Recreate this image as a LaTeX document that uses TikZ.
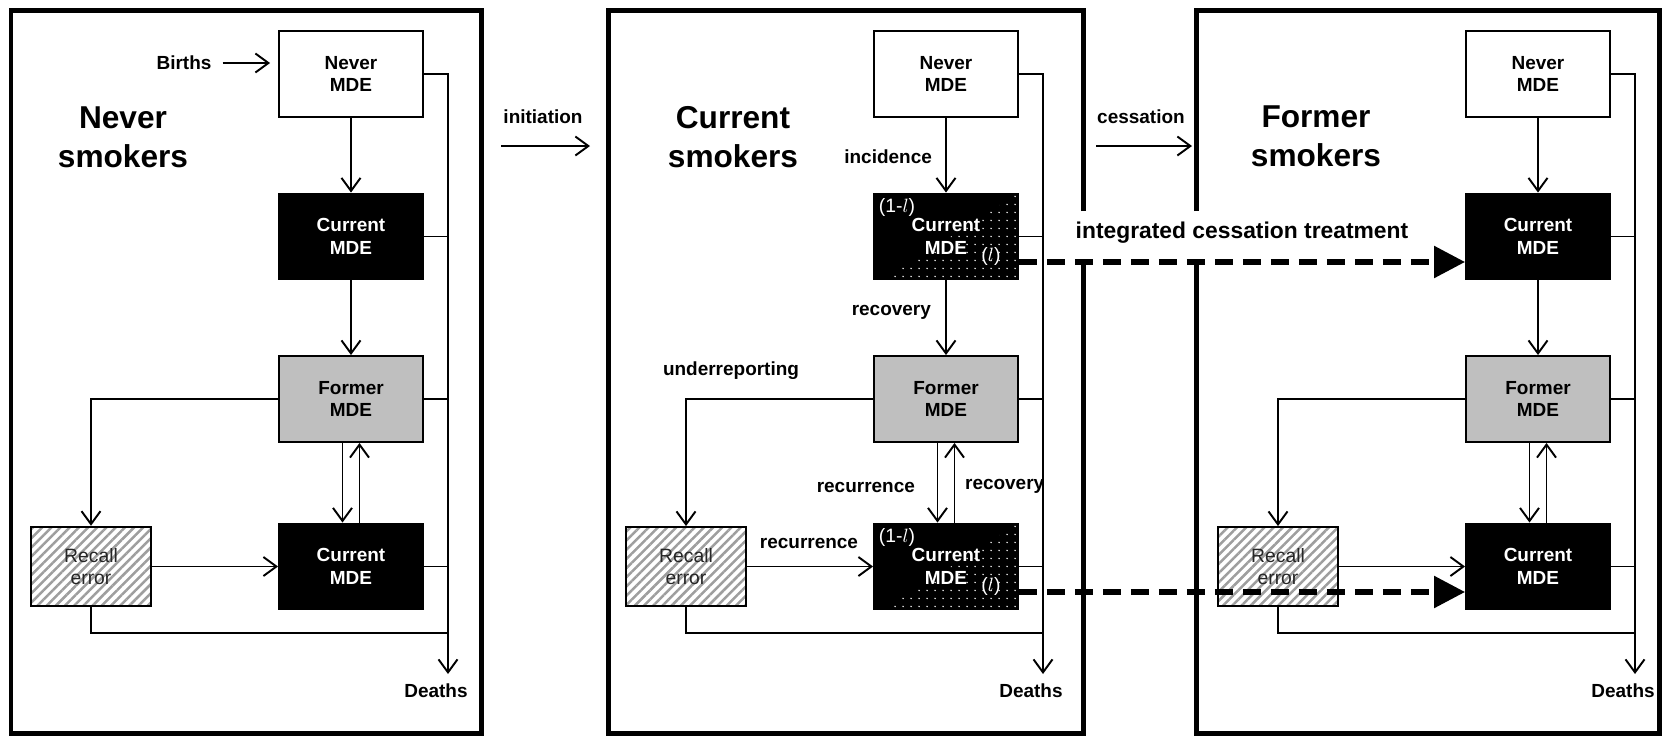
\documentclass[tikz,border=0pt]{standalone}
\usepackage{fontspec}
\setmainfont{Liberation Sans}
\usetikzlibrary{arrows.meta,positioning,calc,patterns.meta}
\definecolor{formgray}{gray}{0.75}
\definecolor{hatchgray}{gray}{0.62}
\definecolor{recink}{gray}{0.15}
\newcommand\mdefont{\fontsize{10.8}{13}\selectfont\bfseries}
\newcommand\labfont{\fontsize{10.8}{13}\selectfont\bfseries}
\newcommand\ttlfont{\fontsize{18}{22}\selectfont\bfseries}
\newcommand\recfont{\fontsize{11}{12.5}\selectfont}
\newcommand\shfont{\fontsize{11}{13}\selectfont}
\newcommand\itgfont{\fontsize{13}{15}\selectfont\bfseries}
\tikzset{
  frm/.style    = {line width=1mm},
  mbox/.style   = {draw, line width=1.1pt, minimum width=2.88cm,
                   minimum height=1.72cm, inner sep=0pt, align=center,
                   font=\mdefont},
  mnever/.style = {mbox, fill=white},
  mcur/.style   = {mbox, fill=black, text=white},
  mform/.style  = {mbox, fill=formgray},
  mrec/.style   = {mbox, minimum width=2.4cm, minimum height=1.58cm,
                   font=\recfont, text=recink,
                   pattern={Lines[angle=45,distance=1.3mm,line width=0.5mm]},
                   pattern color=hatchgray},
  edg/.style    = {draw, line width=1.1pt},
  arr/.style    = {edg, -{Straight Barb[length=2.6mm,width=3.8mm]}},
  dsh/.style    = {line width=1.1mm, dash pattern=on 3.6mm off 2mm,
                   -{Triangle[length=6.2mm,width=6.2mm]}},
  lab/.style    = {font=\labfont, inner sep=1pt},
  ttl/.style    = {font=\ttlfont, align=center},
  shr/.style    = {font=\shfont, text=white, inner sep=0pt},
}

\begin{document}
\begin{tikzpicture}[x=0.02cm, y=-0.02cm]
  \useasboundingbox (0,0) rectangle (1663,735);
  % panel frames
  \draw[frm] (11,10) rectangle (481,733);
  \draw[frm] (1083,211) -- (1083,10) -- (608,10) -- (608,733) -- (1083,733) -- (1083,259);
  \draw[frm] (1196,211) -- (1196,10) -- (1659,10) -- (1659,733) -- (1196,733) -- (1196,259);

  \node[ttl] (t1) at (123,137) {Never\\smokers};
  \node[ttl] (t2) at (733,137) {Current\\smokers};
  \node[ttl] (t3) at (1316,136) {Former\\smokers};

  % the same compartments in every panel
  \foreach \i/\dx in {1/0, 2/595, 3/1187}{
    \node[mnever] (nm\i)  at (\dx+351,74)    {Never\\MDE};
    \node[mcur]   (cua\i) at (\dx+351,236.5) {Current\\MDE};
    \node[mform]  (fm\i)  at (\dx+351,399)   {Former\\MDE};
    \node[mcur]   (cub\i) at (\dx+351,566.5) {Current\\MDE};
    \node[mrec]   (re\i)  at (\dx+91,566.5)  {Recall\\error};
    \node[lab]    (dl\i)  at (\dx+436,691)   {Deaths};
    \coordinate (dt\i) at (\dx+448,674);
    \draw[arr] (nm\i) -- (cua\i);
    \draw[arr] (cua\i) -- (fm\i);
    \draw[arr] (fm\i) -| (re\i);
    \draw[arr] ([xshift=-1.7mm]fm\i.south) -- ([xshift=-1.7mm]cub\i.north);
    \draw[arr] ([xshift=1.7mm]cub\i.north) -- ([xshift=1.7mm]fm\i.south);
    \draw[arr] (re\i) -- (cub\i);
    \draw[arr] (nm\i) -| (dt\i);
    \foreach \b in {cua\i,fm\i,cub\i}
      \draw[edg] (\b.east) -- (\b.east -| dt\i);
    \draw[edg] (re\i.south) |- (\dx+448,633);
  }

  \node[lab] (bir) at (184,63) {Births};
  \draw[arr, shorten <=1.8mm, shorten >=1.6mm] (bir.east) -- (bir.east -| nm1.west);

  \node[lab] (ini) at (543,117) {initiation};
  \coordinate (ia) at (501,146);
  \coordinate (ib) at (590,146);
  \draw[arr] (ia) -- (ib);
  \node[lab] (ces) at (1141,117) {cessation};
  \coordinate (ca) at (1096,146);
  \coordinate (cb) at (1192,146);
  \draw[arr] (ca) -- (cb);

  % flow labels, current smokers
  \node[lab, anchor=east] (inc)  at (934,157) {incidence};
  \node[lab, anchor=east] (rcv1) at (933,312) {recovery};
  \node[lab]              (und)  at (731,371) {underreporting};
  \node[lab, anchor=east] (rcu1) at (917,487) {recurrence};
  \node[lab, anchor=west] (rcv2) at (963,486) {recovery};
  \node[lab]              (rcu2) at (809,543) {recurrence};

  % treated share of current MDE
  \foreach \b in {cua2,cub2}{
    \begin{scope}
      \clip ([xshift=2mm]\b.south west) -- (\b.south east) -- (\b.north east) -- cycle;
      \foreach \u in {0,...,17}
        \foreach \v in {0,...,10}
          \fill[white] ($(\b.south west)+(6+\u*8,-4-\v*8)$) circle (0.45pt);
    \end{scope}
    \node[shr] at ([xshift=4.8mm,yshift=-3mm]\b.north west) {(1-$l$)};
    \node[shr] at ([xshift=-5.6mm,yshift=4.8mm]\b.south east) {($l$)};
  }

  \draw[dsh] ([yshift=-5.1mm]cua2.east) -- ([yshift=-5.1mm]cua3.west);
  \draw[dsh] ([yshift=-5.1mm]cub2.east) -- ([yshift=-5.1mm]cub3.west);
  \node[font=\itgfont] (itg) at (1242,233) {integrated cessation treatment};
\end{tikzpicture}
\end{document}
